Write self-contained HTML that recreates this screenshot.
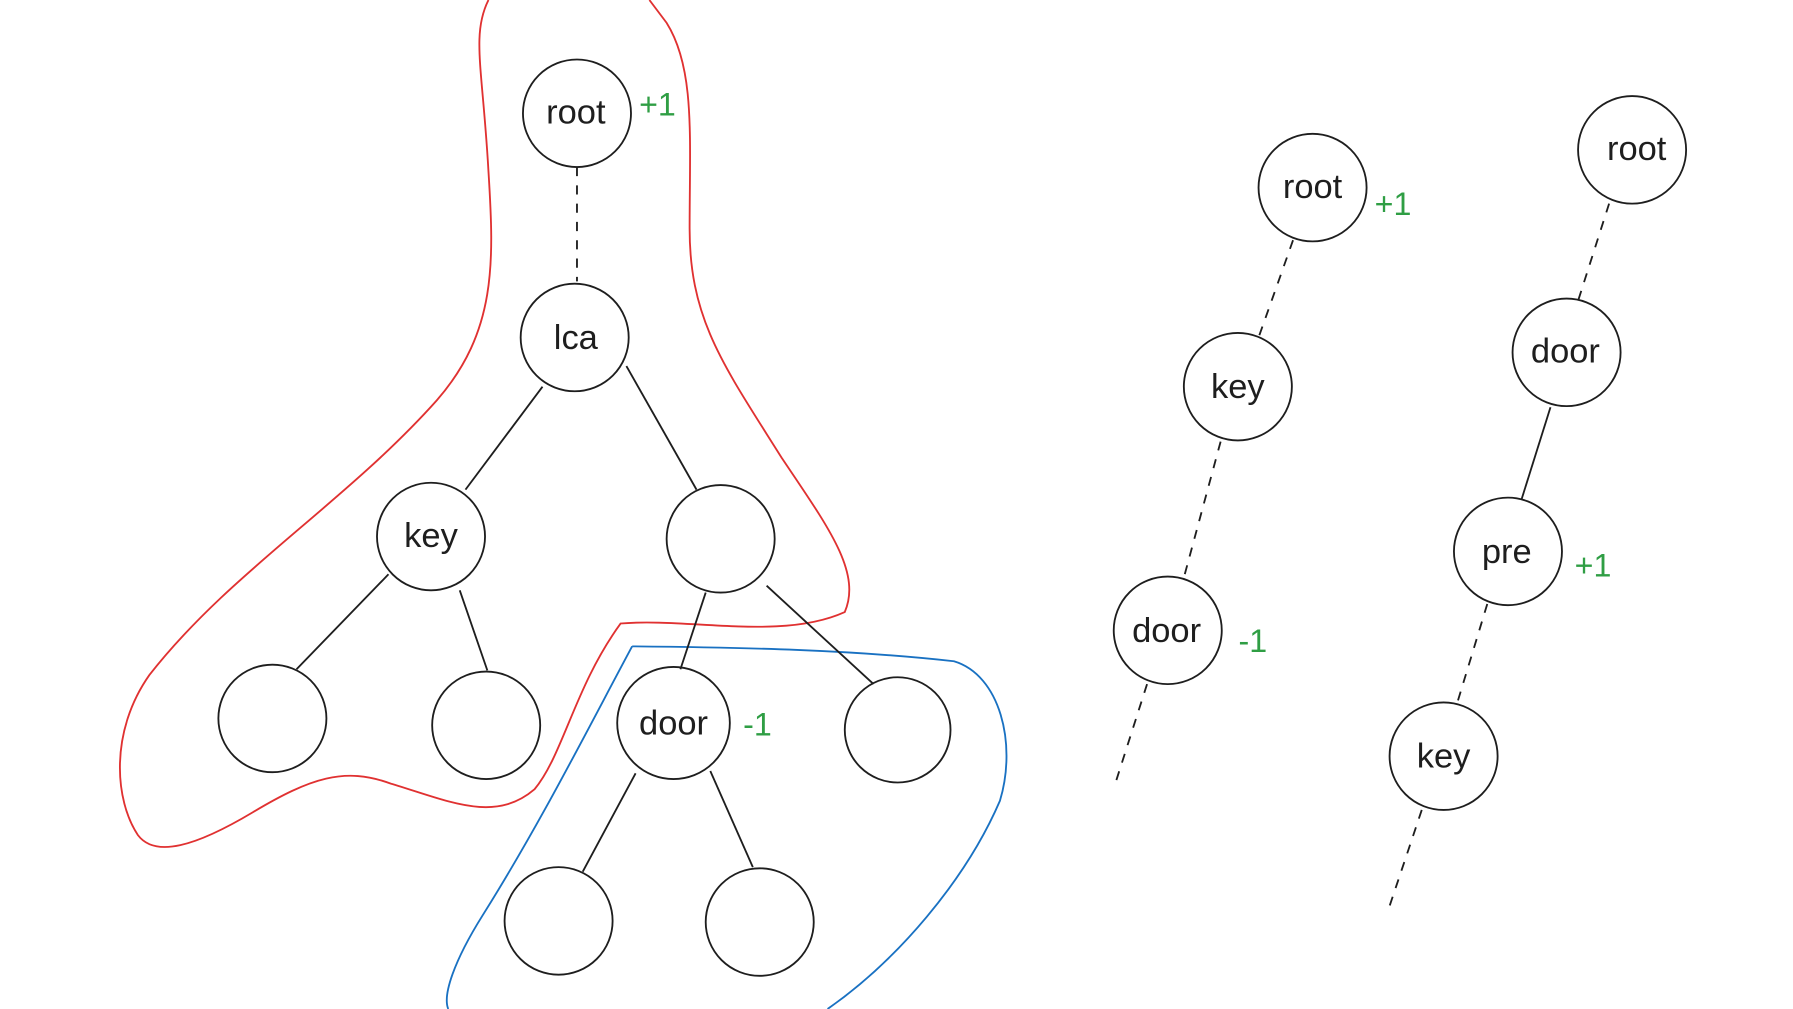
<!DOCTYPE html>
<html><head><meta charset="utf-8"><style>
html,body{margin:0;padding:0;background:#fff;}
svg{display:block;}
text{font-family:"Liberation Sans",sans-serif;}
</style></head><body>
<svg width="1793" height="1009" viewBox="0 0 1560 882" preserveAspectRatio="none" xmlns="http://www.w3.org/2000/svg">
<rect width="1560" height="882" fill="#fff"/>
<!-- red outline -->
<path d="M425,0 C410,30 420,60 425,150 C430,230 432,290 380,350 C300,440 200,500 130,590 C95,640 100,700 120,730 C135,750 170,740 220,710 C270,680 300,670 340,685 C390,700 430,720 465,690 C490,660 500,600 540,545 C600,540 680,560 735,535 C750,500 720,460 680,400 C630,320 600,280 600,200 C600,120 605,60 580,20 L565,0" fill="none" stroke="#e03131" stroke-width="1.6"/>
<!-- blue outline -->
<path d="M550,565 C650,566 740,568 830,578 C870,590 885,650 870,700 C840,770 780,840 720,882 M550,565 C510,640 470,720 420,800 C395,840 385,870 390,882" fill="none" stroke="#1971c2" stroke-width="1.6"/>
<g stroke="#1e1e1e" stroke-width="1.6" fill="none">
<!-- edges left tree -->
<line x1="502" y1="146" x2="502" y2="246" stroke-dasharray="8 8"/>
<line x1="472" y1="338" x2="405" y2="428"/>
<line x1="545" y1="320" x2="606" y2="428"/>
<line x1="338" y1="502" x2="258" y2="585"/>
<line x1="400" y1="516" x2="424" y2="586"/>
<line x1="614" y1="518" x2="592" y2="585"/>
<line x1="667" y1="512" x2="760" y2="598"/>
<line x1="553" y1="676" x2="507" y2="762"/>
<line x1="618" y1="674" x2="655" y2="758"/>
<!-- right chains -->
<line x1="1125" y1="210" x2="1095" y2="295" stroke-dasharray="8 8"/>
<line x1="1062" y1="386" x2="1030" y2="505" stroke-dasharray="8 8"/>
<line x1="998" y1="598" x2="970" y2="686" stroke-dasharray="8 8"/>
<line x1="1400" y1="178" x2="1373" y2="263" stroke-dasharray="8 8"/>
<line x1="1349" y1="356" x2="1324" y2="436"/>
<line x1="1294" y1="528" x2="1268" y2="614" stroke-dasharray="8 8"/>
<line x1="1237" y1="708" x2="1208" y2="795" stroke-dasharray="8 8"/>
<!-- circles -->
<circle cx="502" cy="99" r="47"/><circle cx="500" cy="295" r="47"/>
<circle cx="375" cy="469" r="47"/><circle cx="627" cy="471" r="47"/>
<circle cx="237" cy="628" r="47"/><circle cx="423" cy="634" r="47"/>
<circle cx="586" cy="632" r="49"/><circle cx="781" cy="638" r="46"/>
<circle cx="486" cy="805" r="47"/><circle cx="661" cy="806" r="47"/>
<circle cx="1142" cy="164" r="47"/><circle cx="1077" cy="338" r="47"/>
<circle cx="1016" cy="551" r="47"/>
<circle cx="1420" cy="131" r="47"/><circle cx="1363" cy="308" r="47"/>
<circle cx="1312" cy="482" r="47"/><circle cx="1256" cy="661" r="47"/>
</g>
<g font-size="30" fill="#1e1e1e" text-anchor="middle">
<text x="501" y="108">root</text><text x="501" y="305">lca</text>
<text x="375" y="478">key</text><text x="586" y="642">door</text>
<text x="1142" y="173">root</text><text x="1077" y="348">key</text>
<text x="1015" y="561">door</text><text x="1424" y="140">root</text>
<text x="1362" y="317">door</text><text x="1311" y="492">pre</text>
<text x="1256" y="671">key</text>
</g>
<g font-size="28" fill="#2f9e44" text-anchor="middle">
<text x="572" y="101">+1</text><text x="659" y="643">-1</text>
<text x="1212" y="188">+1</text><text x="1090" y="570">-1</text>
<text x="1386" y="504">+1</text>
</g>
</svg>
</body></html>
